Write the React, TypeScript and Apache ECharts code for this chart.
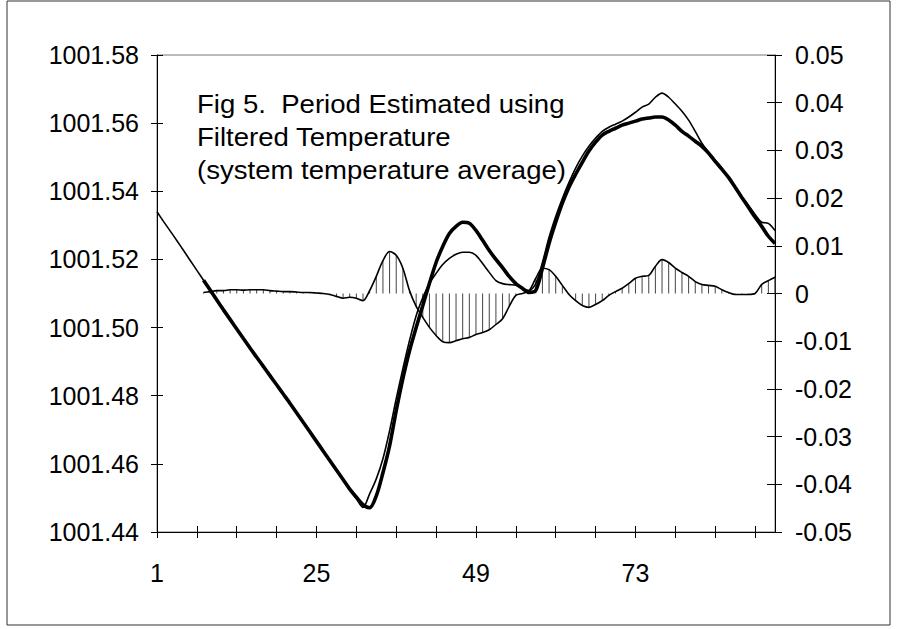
import React, { useEffect, useRef } from "react";
import * as echarts from "echarts";

const categories: string[] = Array.from({ length: 94 }, (_, i) => String(i + 1));

const leftTicks = { min: 1001.44, max: 1001.58, interval: 0.02 };
const rightTicks = { min: -0.05, max: 0.05, interval: 0.01 };

// thin line (left axis), categories 1..94
const thinValues: number[] = [
  1001.534, 1001.5311, 1001.5283, 1001.5255, 1001.5226, 1001.5197, 1001.5168, 1001.5139, 1001.511, 1001.5081,
  1001.5052, 1001.5024, 1001.4996, 1001.4968, 1001.494, 1001.4913, 1001.4886, 1001.4859, 1001.4832, 1001.4805,
  1001.4778, 1001.475, 1001.4722, 1001.4694, 1001.4666, 1001.4638, 1001.461, 1001.4582, 1001.4554, 1001.4526,
  1001.4498, 1001.4472, 1001.4512, 1001.4556, 1001.4615, 1001.4697, 1001.4791, 1001.4879, 1001.4962, 1001.5035,
  1001.5088, 1001.513, 1001.5159, 1001.5185, 1001.5203, 1001.5215, 1001.5221, 1001.5221, 1001.5212, 1001.5188,
  1001.5162, 1001.5138, 1001.5129, 1001.5126, 1001.5124, 1001.5115, 1001.5109, 1001.5129, 1001.5191, 1001.5265,
  1001.5326, 1001.5379, 1001.5426, 1001.5468, 1001.5503, 1001.5532, 1001.5556, 1001.5576, 1001.5588, 1001.5597,
  1001.5606, 1001.5618, 1001.5632, 1001.5647, 1001.5656, 1001.5676, 1001.5688, 1001.5676, 1001.5656, 1001.5635,
  1001.5609, 1001.5576, 1001.5541, 1001.5515, 1001.5491, 1001.5468, 1001.5441, 1001.5412, 1001.5385, 1001.5359,
  1001.5332, 1001.5309, 1001.5306, 1001.5285,
];

// thick line (left axis), starts at category 8
const thickValues: (number | null)[] = [
  null, null, null, null, null, null, null, 1001.5139, 1001.511, 1001.5081,
  1001.5052, 1001.5024, 1001.4996, 1001.4968, 1001.494, 1001.4913, 1001.4886, 1001.4859, 1001.4832, 1001.4805,
  1001.4778, 1001.475, 1001.4722, 1001.4694, 1001.4666, 1001.4638, 1001.461, 1001.4582, 1001.4554, 1001.4526,
  1001.4502, 1001.448, 1001.4471, 1001.4506, 1001.4574, 1001.4653, 1001.4756, 1001.485, 1001.4932, 1001.5,
  1001.5065, 1001.513, 1001.5191, 1001.5238, 1001.5276, 1001.5297, 1001.5309, 1001.5306, 1001.5285, 1001.5256,
  1001.5226, 1001.52, 1001.5176, 1001.515, 1001.5129, 1001.5115, 1001.5103, 1001.5109, 1001.5174, 1001.5247,
  1001.5309, 1001.5365, 1001.5412, 1001.545, 1001.5485, 1001.5518, 1001.5544, 1001.5565, 1001.5576, 1001.5585,
  1001.5594, 1001.56, 1001.5606, 1001.5612, 1001.5615, 1001.5618, 1001.5618, 1001.5609, 1001.5594, 1001.5576,
  1001.5562, 1001.5547, 1001.5532, 1001.5512, 1001.5488, 1001.5465, 1001.5441, 1001.5412, 1001.5382, 1001.5353,
  1001.5324, 1001.5297, 1001.5268, 1001.5247,
];

// difference (right axis), starts at category 8
const diffValues: (number | null)[] = [
  null, null, null, null, null, null, null, 0.0002, 0.0004, 0.0006,
  0.0006, 0.0008, 0.0008, 0.0007, 0.0008, 0.0008, 0.0008, 0.0006, 0.0005, 0.0004,
  0.0004, 0.0003, 0.0002, 0.0002, 0.0001, 0, -0.0002, -0.0006, -0.001, -0.0008,
  -0.001, -0.0015, 0.0006, 0.0036, 0.0069, 0.0088, 0.008, 0.0053, 0.0006, -0.0027,
  -0.005, -0.0071, -0.0088, -0.0101, -0.0103, -0.0099, -0.0095, -0.0092, -0.0086, -0.0082,
  -0.0076, -0.0065, -0.0053, -0.0027, -0.0004, 0, 0.0006, 0.0032, 0.0053, 0.005,
  0.0036, 0.0017, -0.0002, -0.0015, -0.0025, -0.0029, -0.0023, -0.0015, -0.0004, 0.0004,
  0.0011, 0.0021, 0.0032, 0.0036, 0.0038, 0.0057, 0.0071, 0.0065, 0.0053, 0.0044,
  0.0036, 0.0025, 0.0019, 0.0017, 0.0015, 0.0008, 0.0002, -0.0002, -0.0002, -0.0002,
  0, 0.0019, 0.0027, 0.0034,
];

const titleLines: string[] = [
  "Fig 5.  Period Estimated using",
  "Filtered Temperature",
  "(system temperature average)",
];

const FONT = '"Liberation Sans", Arial, sans-serif';

export default function App() {
  const ref = useRef<HTMLDivElement>(null);

  useEffect(() => {
    document.body.style.margin = "0";
    if (!ref.current) return;
    const chart = echarts.init(ref.current, undefined, { renderer: "svg" });

    const tickStyle = { color: "#000", width: 1 };
    const labelStyle = { color: "#000", fontSize: 25, fontFamily: FONT };

    chart.setOption({
      animation: false,
      backgroundColor: "#fff",
      grid: {
        left: 157,
        right: 124,
        top: 55,
        bottom: 97,
        show: true,
        borderColor: "#777",
        borderWidth: 1,
        backgroundColor: "transparent",
      },
      xAxis: [
        {
          type: "category",
          data: categories,
          boundaryGap: false,
          position: "bottom",
          axisLine: { show: true, onZero: false, lineStyle: { color: "#000", width: 1 } },
          axisTick: { show: true, interval: 5, length: 6, lineStyle: tickStyle },
          axisLabel: { ...labelStyle, interval: 23, margin: 28 },
          splitLine: { show: false },
        },
        {
          type: "category",
          data: categories,
          boundaryGap: false,
          position: "bottom",
          axisLine: { show: false, onZero: false },
          axisTick: { show: true, inside: true, interval: 5, length: 6, lineStyle: tickStyle },
          axisLabel: { show: false },
          splitLine: { show: false },
        },
      ],
      yAxis: [
        {
          type: "value",
          position: "left",
          min: leftTicks.min,
          max: leftTicks.max,
          interval: leftTicks.interval,
          axisLine: { show: true, onZero: false, lineStyle: { color: "#000", width: 1 } },
          axisTick: { show: true, length: 6, lineStyle: tickStyle },
          axisLabel: { ...labelStyle, margin: 18, formatter: (v: number) => v.toFixed(2) },
          splitLine: { show: false },
        },
        {
          type: "value",
          position: "right",
          min: rightTicks.min,
          max: rightTicks.max,
          interval: rightTicks.interval,
          axisLine: { show: true, onZero: false, lineStyle: { color: "#000", width: 1 } },
          axisTick: { show: true, length: 7, lineStyle: tickStyle },
          axisLabel: {
            ...labelStyle,
            margin: 20,
            formatter: (v: number) => (Math.abs(v) < 1e-9 ? "0" : v.toFixed(2)),
          },
          splitLine: { show: false },
        },
        {
          type: "value",
          position: "left",
          min: leftTicks.min,
          max: leftTicks.max,
          interval: leftTicks.interval,
          axisLine: { show: false, onZero: false },
          axisTick: { show: true, inside: true, length: 6, lineStyle: tickStyle },
          axisLabel: { show: false },
          splitLine: { show: false },
        },
        {
          type: "value",
          position: "right",
          min: rightTicks.min,
          max: rightTicks.max,
          interval: rightTicks.interval,
          axisLine: { show: false, onZero: false },
          axisTick: { show: true, inside: true, length: 8, lineStyle: tickStyle },
          axisLabel: { show: false },
          splitLine: { show: false },
        },
      ],
      series: [
        {
          type: "bar",
          name: "hatch",
          xAxisIndex: 0,
          yAxisIndex: 1,
          data: diffValues,
          barWidth: 1,
          itemStyle: { color: "#444" },
          z: 1,
        },
        {
          type: "line",
          name: "difference",
          xAxisIndex: 0,
          yAxisIndex: 1,
          data: diffValues,
          symbol: "none",
          smooth: 0.3,
          lineStyle: { color: "#000", width: 1.6 },
          z: 3,
        },
        {
          type: "line",
          name: "thin",
          xAxisIndex: 0,
          yAxisIndex: 0,
          data: thinValues,
          symbol: "none",
          smooth: 0.3,
          lineStyle: { color: "#000", width: 1.6 },
          z: 4,
        },
        {
          type: "line",
          name: "thick",
          xAxisIndex: 0,
          yAxisIndex: 0,
          data: thickValues,
          symbol: "none",
          smooth: 0.3,
          lineStyle: { color: "#000", width: 3.6 },
          z: 5,
        },
      ],
      graphic: [
        {
          type: "rect",
          silent: true,
          shape: { x: 7, y: 1, width: 883, height: 624 },
          style: { fill: "none", stroke: "#333", lineWidth: 1 },
          z: 0,
        },
        ...titleLines.map((t, i) => ({
          type: "text",
          silent: true,
          x: 197,
          y: 104 + i * 33,
          scaleX: 1.06,
          style: {
            text: t,
            font: `26px ${FONT}`,
            fill: "#000",
            textVerticalAlign: "middle",
            verticalAlign: "middle",
          },
          z: 10,
        })),
      ],
    });

    return () => {
      chart.dispose();
    };
  }, []);

  return (
    <div
      ref={ref}
      style={{ position: "absolute", left: 0, top: 0, width: 899, height: 629 }}
    />
  );
}
